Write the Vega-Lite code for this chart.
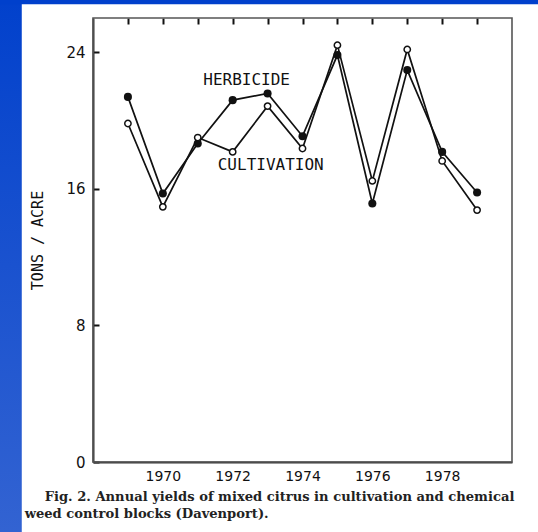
{
  "$schema": "https://vega.github.io/schema/vega-lite/v6.json",
  "width": 419,
  "height": 444,
  "autosize": {"type": "none"},
  "padding": {"left": 93, "top": 18, "right": 26, "bottom": 70},
  "background": "#ffffff",
  "config": {"view": {"stroke": null}},
  "data": {"values": [
    {"year": 1969, "series": "Herbicide", "tons": 21.38},
    {"year": 1970, "series": "Herbicide", "tons": 15.72},
    {"year": 1971, "series": "Herbicide", "tons": 18.65},
    {"year": 1972, "series": "Herbicide", "tons": 21.19},
    {"year": 1973, "series": "Herbicide", "tons": 21.58},
    {"year": 1974, "series": "Herbicide", "tons": 19.08},
    {"year": 1975, "series": "Herbicide", "tons": 23.83},
    {"year": 1976, "series": "Herbicide", "tons": 15.14},
    {"year": 1977, "series": "Herbicide", "tons": 22.95},
    {"year": 1978, "series": "Herbicide", "tons": 18.16},
    {"year": 1979, "series": "Herbicide", "tons": 15.78},
    {"year": 1969, "series": "Cultivation", "tons": 19.82},
    {"year": 1970, "series": "Cultivation", "tons": 14.94},
    {"year": 1971, "series": "Cultivation", "tons": 19.0},
    {"year": 1972, "series": "Cultivation", "tons": 18.16},
    {"year": 1973, "series": "Cultivation", "tons": 20.84},
    {"year": 1974, "series": "Cultivation", "tons": 18.36},
    {"year": 1975, "series": "Cultivation", "tons": 24.41},
    {"year": 1976, "series": "Cultivation", "tons": 16.46},
    {"year": 1977, "series": "Cultivation", "tons": 24.16},
    {"year": 1978, "series": "Cultivation", "tons": 17.63},
    {"year": 1979, "series": "Cultivation", "tons": 14.75}
  ]},
  "layer": [
    {
      "data": {"values": [{}]},
      "mark": {"type": "rect", "fill": {"gradient": "linear", "x1": 0, "y1": 0, "x2": 0, "y2": 1, "stops": [{"offset": 0, "color": "#0040cc"}, {"offset": 1, "color": "#3464d2"}]}},
      "encoding": {
        "x": {"datum": 1965, "type": "quantitative", "scale": {"domain": [1968, 1980], "nice": false, "zero": false}},
        "x2": {"datum": 1965.96},
        "y": {"datum": 28, "type": "quantitative", "scale": {"domain": [0, 26], "nice": false}},
        "y2": {"datum": -5}
      }
    },
    {
      "data": {"values": [{}]},
      "mark": {"type": "rect", "fill": "#0040cc"},
      "encoding": {
        "x": {"datum": 1965, "type": "quantitative", "scale": {"domain": [1968, 1980], "nice": false, "zero": false}},
        "x2": {"datum": 1981},
        "y": {"datum": 28, "type": "quantitative", "scale": {"domain": [0, 26], "nice": false}},
        "y2": {"datum": 26.8}
      }
    },
    {
      "data": {"values": [{}]},
      "mark": {"type": "rect", "fill": null, "fillOpacity": 0, "stroke": "#555", "strokeWidth": 1.6},
      "encoding": {
        "x": {"datum": 1968, "type": "quantitative", "scale": {"domain": [1968, 1980], "nice": false, "zero": false}},
        "x2": {"datum": 1980},
        "y": {"datum": 0, "type": "quantitative", "scale": {"domain": [0, 26], "nice": false}},
        "y2": {"datum": 26}
      }
    },
    {
      "mark": {"type": "line", "color": "#111", "strokeWidth": 1.7},
      "encoding": {
        "x": {"field": "year", "type": "quantitative", "scale": {"domain": [1968, 1980], "nice": false, "zero": false},
          "axis": {"values": [1969, 1970, 1971, 1972, 1973, 1974, 1975, 1976, 1977, 1978, 1979], "labelExpr": "datum.value % 2 === 0 ? format(datum.value, 'd') : ''", "ticks": false, "title": null, "grid": true, "gridDash": [6, 2000], "gridColor": "#111", "gridWidth": 2, "gridOpacity": 1, "labelFontSize": 14, "labelFont": "DejaVu Sans", "labelColor": "#111", "domainColor": "#333", "domainWidth": 2, "labelPadding": 7}},
        "y": {"field": "tons", "type": "quantitative", "scale": {"domain": [0, 26], "nice": false},
          "axis": {"values": [0, 8, 16, 24], "ticks": false, "grid": true, "gridDash": [6, 2000], "gridColor": "#111", "gridWidth": 2, "gridOpacity": 1, "title": "TONS / ACRE", "titleFont": "DejaVu Sans Mono", "titleFontSize": 15, "titleFontWeight": "normal", "titleColor": "#111", "titlePadding": 20, "labelFontSize": 15, "labelFont": "DejaVu Sans", "labelColor": "#111", "labelPadding": 8, "domainColor": "#333", "domainWidth": 2}},
        "detail": {"field": "series", "type": "nominal"}
      }
    },
    {
      "transform": [{"filter": "datum.series === 'Herbicide'"}],
      "mark": {"type": "circle", "color": "#111", "size": 65, "opacity": 1},
      "encoding": {
        "x": {"field": "year", "type": "quantitative"},
        "y": {"field": "tons", "type": "quantitative"}
      }
    },
    {
      "transform": [{"filter": "datum.series === 'Cultivation'"}],
      "mark": {"type": "point", "shape": "circle", "filled": true, "fill": "#ffffff", "stroke": "#111", "strokeWidth": 1.5, "size": 40, "opacity": 1},
      "encoding": {
        "x": {"field": "year", "type": "quantitative"},
        "y": {"field": "tons", "type": "quantitative"}
      }
    },
    {
      "data": {"values": [{}]},
      "mark": {"type": "text", "font": "DejaVu Sans Mono", "fontSize": 16, "align": "center", "baseline": "middle", "color": "#111", "text": "HERBICIDE"},
      "encoding": {
        "x": {"datum": 1972.4, "type": "quantitative"},
        "y": {"datum": 22.36, "type": "quantitative"}
      }
    },
    {
      "data": {"values": [{}]},
      "mark": {"type": "text", "font": "DejaVu Sans Mono", "fontSize": 16, "align": "center", "baseline": "middle", "color": "#111", "text": "CULTIVATION"},
      "encoding": {
        "x": {"datum": 1973.09, "type": "quantitative"},
        "y": {"datum": 17.38, "type": "quantitative"}
      }
    },
    {
      "data": {"values": [{}]},
      "mark": {"type": "text", "font": "DejaVu Serif", "fontWeight": "bold", "fontSize": 13.1, "align": "left", "baseline": "middle", "color": "#222", "text": "Fig. 2. Annual yields of mixed citrus in cultivation and chemical"},
      "encoding": {
        "x": {"datum": 1966.616, "type": "quantitative"},
        "y": {"datum": -2.07, "type": "quantitative"}
      }
    },
    {
      "data": {"values": [{}]},
      "mark": {"type": "text", "font": "DejaVu Serif", "fontWeight": "bold", "fontSize": 13.1, "align": "left", "baseline": "middle", "color": "#222", "text": "weed control blocks (Davenport)."},
      "encoding": {
        "x": {"datum": 1966.043, "type": "quantitative"},
        "y": {"datum": -3.06, "type": "quantitative"}
      }
    }
  ]
}
